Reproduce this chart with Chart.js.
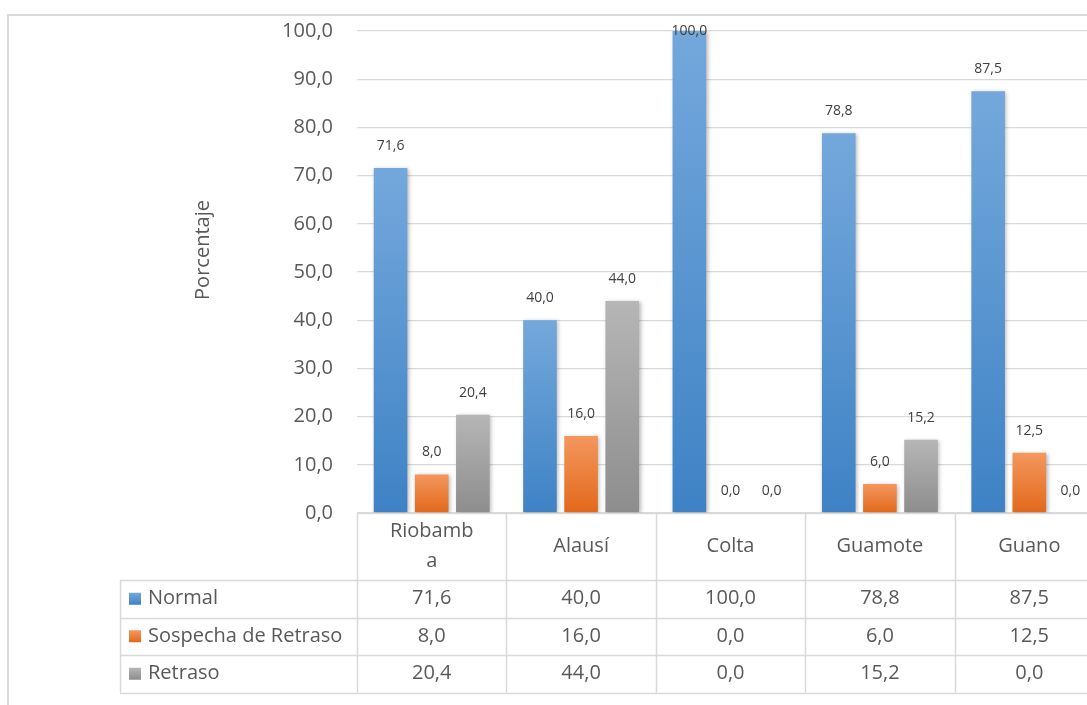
<!DOCTYPE html>
<html>
<head>
<meta charset="utf-8">
<script src="https://cdn.jsdelivr.net/npm/chart.js@4.4.1/dist/chart.umd.min.js"></script>
<style>
  html, body { margin: 0; padding: 0; background: #fff; overflow: hidden; width: 1087px; height: 705px; }
  #wrap { position: absolute; left: 0; top: 0; width: 1112px; height: 705px; }
</style>
</head>
<body>
<div id="wrap"><canvas id="c" width="1112" height="705"></canvas></div>
<script>
// Cantones (the first one wraps onto two lines in the header row)
const categories = [['Riobamb', 'a'], 'Alausí', 'Colta', 'Guamote', 'Guano'];
const seriesNames = ['Normal', 'Sospecha de Retraso', 'Retraso'];
const normal   = [71.6, 40.0, 100.0, 78.8, 87.5];
const sospecha = [8.0, 16.0, 0.0, 6.0, 12.5];
const retraso  = [20.4, 44.0, 0.0, 15.2, 0.0];
const axisTitle = 'Porcentaje';

const FONT = '"Open Sans", "Noto Sans", sans-serif';
const TEXT = '#595959';
const LINE = '#d9d9d9';

const fmt = v => v.toFixed(1).replace('.', ',');

// vertical gradient for each bar, lighter on top, darker at the base
function barGradient(top, bottom) {
  return (ctx) => {
    if (ctx.type !== 'data') return top;
    const chart = ctx.chart;
    const ys = chart.scales.y;
    if (!ys) return top;
    const y0 = ys.getPixelForValue(0);
    const y1 = ys.getPixelForValue(ctx.parsed.y);
    if (!isFinite(y0) || !isFinite(y1) || Math.abs(y0 - y1) < 0.5) return top;
    const g = chart.ctx.createLinearGradient(0, y1, 0, y0);
    g.addColorStop(0, top);
    g.addColorStop(1, bottom);
    return g;
  };
}

const palette = [
  ['#74a8dc', '#3e82c5'],
  ['#f4975e', '#e2681a'],
  ['#b6b6b6', '#8d8d8d']
];
const seriesData = [normal, sospecha, retraso];

// soft drop shadow under the bars
const shadowPlugin = {
  id: 'barShadow',
  beforeDatasetsDraw(chart) {
    const c = chart.ctx;
    c.save();
    c.shadowColor = 'rgba(0,0,0,0.28)';
    c.shadowBlur = 4;
    c.shadowOffsetX = 1.5;
    c.shadowOffsetY = 1;
  },
  afterDatasetsDraw(chart) {
    chart.ctx.restore();
  }
};

// value labels above each bar
const valueLabels = {
  id: 'valueLabels',
  afterDatasetsDraw(chart) {
    const c = chart.ctx;
    const top = chart.chartArea.top;
    c.save();
    c.font = '14px ' + FONT;
    c.fillStyle = '#404040';
    c.textAlign = 'center';
    c.textBaseline = 'middle';
    chart.data.datasets.forEach((ds, di) => {
      chart.getDatasetMeta(di).data.forEach((bar, i) => {
        const y = Math.max(bar.y - 22, top);
        c.fillText(fmt(ds.data[i]), bar.x, y);
      });
    });
    c.restore();
  }
};

// outer frame, axis title and the data table under the category axis
const tablePlugin = {
  id: 'dataTable',
  afterDraw(chart) {
    const c = chart.ctx;
    const area = chart.chartArea;
    const xs = chart.scales.x;
    const n = categories.length;
    const colW = (area.right - area.left) / n;
    const headTop = area.bottom;
    const headBottom = xs.bottom;
    const rowH = 37.5;
    const tableLeft = 120;
    const tableBottom = headBottom + rowH * seriesNames.length;

    c.save();
    // frame
    c.strokeStyle = LINE;
    c.lineWidth = 2;
    c.beginPath();
    c.moveTo(8, chart.height + 5);
    c.lineTo(8, 15);
    c.lineTo(chart.width + 5, 15);
    c.stroke();

    // axis title
    c.save();
    c.translate(203, 250);
    c.rotate(-Math.PI / 2);
    c.font = '20px ' + FONT;
    c.fillStyle = TEXT;
    c.textAlign = 'center';
    c.textBaseline = 'middle';
    c.fillText(axisTitle, 0, 0);
    c.restore();

    // table grid
    c.strokeStyle = LINE;
    c.lineWidth = 1.5;
    c.beginPath();
    for (let i = 0; i <= n; i++) {
      const x = Math.round(area.left + i * colW) + 0.5;
      c.moveTo(x, headTop);
      c.lineTo(x, tableBottom);
    }
    c.moveTo(tableLeft + 0.5, headBottom);
    c.lineTo(tableLeft + 0.5, tableBottom);
    c.moveTo(area.left, headTop + 0.5);
    c.lineTo(area.right, headTop + 0.5);
    for (let r = 0; r <= seriesNames.length; r++) {
      const y = Math.round(headBottom + r * rowH) + 0.5;
      c.moveTo(tableLeft, y);
      c.lineTo(area.right, y);
    }
    c.stroke();

    // rows
    c.font = '20px ' + FONT;
    c.fillStyle = TEXT;
    c.textBaseline = 'middle';
    seriesNames.forEach((name, r) => {
      const cy = headBottom + r * rowH + rowH / 2;
      const g = c.createLinearGradient(0, cy - 6, 0, cy + 6);
      g.addColorStop(0, palette[r][0]);
      g.addColorStop(1, palette[r][1]);
      c.fillStyle = g;
      c.fillRect(129, cy - 6, 12, 12);
      c.fillStyle = TEXT;
      c.textAlign = 'left';
      c.fillText(name, 148, cy);
      c.textAlign = 'center';
      seriesData[r].forEach((v, i) => {
        c.fillText(fmt(v), xs.getPixelForValue(i), cy);
      });
    });
    c.restore();
  }
};

new Chart(document.getElementById('c'), {
  type: 'bar',
  data: {
    labels: categories,
    datasets: seriesData.map((d, i) => ({
      label: seriesNames[i],
      data: d,
      backgroundColor: barGradient(palette[i][0], palette[i][1]),
      borderWidth: 0,
      categoryPercentage: 0.826,
      barPercentage: 0.817
    }))
  },
  options: {
    responsive: false,
    animation: false,
    events: [],
    layout: { padding: { left: 0, top: 31, right: 8, bottom: 125 } },
    plugins: { legend: { display: false }, tooltip: { enabled: false } },
    scales: {
      x: {
        grid: { display: false, drawTicks: false },
        border: { display: false },
        ticks: {
          color: TEXT,
          font: { family: FONT, size: 20, lineHeight: 1.5 },
          padding: 18,
          crossAlign: 'center',
          maxRotation: 0,
          autoSkip: false
        },
        afterFit(scale) { scale.height = 67; }
      },
      y: {
        min: 0,
        max: 100,
        grid: { color: LINE, lineWidth: 1.3, drawTicks: false },
        border: { display: false },
        ticks: {
          stepSize: 10,
          color: TEXT,
          font: { family: FONT, size: 20 },
          padding: 24,
          callback: v => fmt(v)
        },
        afterFit(scale) {
          scale.width = 357;
          scale.paddingTop = 0;
          scale.paddingBottom = 0;
        }
      }
    }
  },
  plugins: [shadowPlugin, valueLabels, tablePlugin]
});
</script>
</body>
</html>
